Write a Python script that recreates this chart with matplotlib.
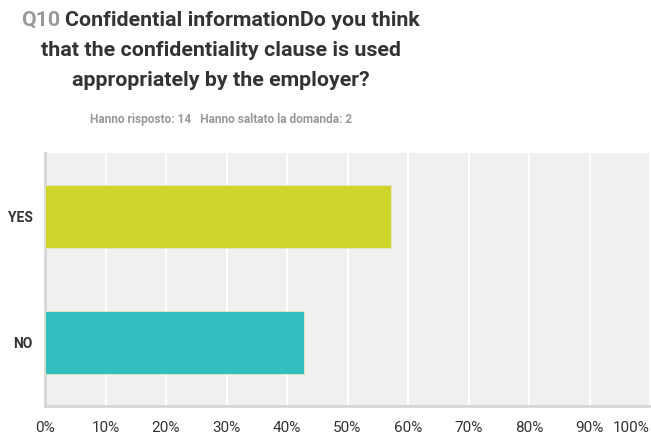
import matplotlib
matplotlib.use("Agg")
import matplotlib.pyplot as plt

# Survey data
categories = ["YES", "NO"]
percentages = [57.14, 42.86]
bar_colors = ["#cfd52a", "#33bec0"]
x_ticks = list(range(0, 101, 10))
x_tick_labels = [f"{t}%" for t in x_ticks]

plt.rcParams["font.family"] = ["Roboto", "Liberation Sans", "DejaVu Sans"]

fig = plt.figure(figsize=(6.51, 4.37), dpi=100)
fig.patch.set_facecolor("white")
renderer = fig.canvas.get_renderer()

W, H = 651, 437
ax = fig.add_axes([45 / W, (H - 406) / H, (650 - 45) / W, (406 - 153) / H])
ax.set_facecolor("#f0f0f0")

ypos = list(range(len(categories)))
ax.barh(ypos, percentages, height=0.5, color=bar_colors,
        edgecolor="#e6e6c8", linewidth=0.6, zorder=3)

ax.set_xlim(0, 100)
ax.set_ylim(len(categories) - 0.5, -0.5)
ax.set_xticks(x_ticks)
ax.set_xticklabels(x_tick_labels)
ax.set_yticks(ypos)
ax.set_yticklabels(categories)

ax.xaxis.grid(True, color="white", linewidth=1.5, zorder=1)
ax.set_axisbelow(True)

for side in ["top", "right"]:
    ax.spines[side].set_visible(False)
for side in ["left", "bottom"]:
    ax.spines[side].set_color("#d6d6d6")
    ax.spines[side].set_linewidth(2)

ax.tick_params(axis="both", length=0)
ax.tick_params(axis="x", pad=11, labelsize=11, labelcolor="#333333")
ax.tick_params(axis="y", pad=9, labelsize=10, labelcolor="#333333")
for lbl in ax.get_yticklabels():
    lbl.set_fontweight("bold")
ax.get_xticklabels()[-1].set_horizontalalignment("right")


def fit_size(text, target_px, base=16):
    t = fig.text(0, 0, text, fontsize=base, fontweight="bold")
    w = t.get_window_extent(renderer).width
    t.remove()
    return base * target_px / w


# Title: "Q10" in grey, rest dark
title_size = fit_size("Q10 Confidential informationDo you think", 400)
q = fig.text(21 / W, 1 - 20 / H, "Q10", color="#999999", fontsize=title_size,
             fontweight="bold", ha="left", va="center")
qw = q.get_window_extent(renderer).width
fig.text(21 / W + (qw + 5) / W, 1 - 20 / H, "Confidential informationDo you think",
         color="#333333", fontsize=title_size, fontweight="bold",
         ha="left", va="center")
fig.text(221 / W, 1 - 50 / H, "that the confidentiality clause is used",
         color="#333333", fontsize=title_size, fontweight="bold",
         ha="center", va="center")
fig.text(221 / W, 1 - 80 / H, "appropriately by the employer?",
         color="#333333", fontsize=title_size, fontweight="bold",
         ha="center", va="center")

subtitle = "Hanno risposto: 14   Hanno saltato la domanda: 2"
fig.text(221 / W, 1 - 119 / H, subtitle,
         color="#999999", fontsize=fit_size(subtitle, 265), fontweight="bold",
         ha="center", va="center")

fig.savefig("out.png", dpi=100, facecolor=fig.get_facecolor())
